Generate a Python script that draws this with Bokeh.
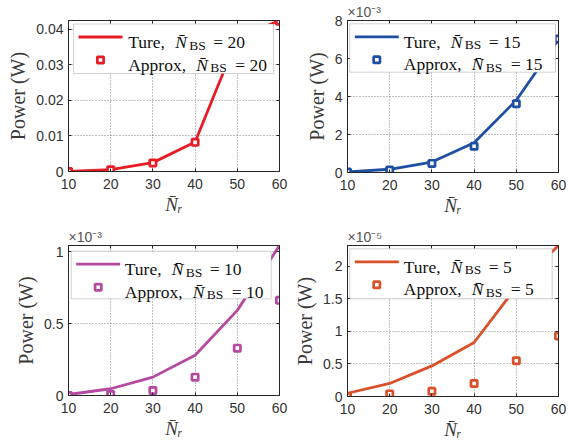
import numpy as np
from bokeh.plotting import figure
from bokeh.layouts import row, column
from bokeh.models import (Range1d, LinearAxis, FixedTicker, CustomJSTickFormatter,
                          BoxAnnotation, Label)
from bokeh.embed import file_html
from bokeh.resources import INLINE

# ---- data -------------------------------------------------------------
nr = [10, 20, 30, 40, 50, 60]

true_bs20 = [0.00002, 0.0005, 0.0025, 0.0083, 0.0375, 0.0425]
approx_bs20 = [0.00002, 0.0005, 0.0024, 0.0082, 0.0372, 0.0423]

true_bs15 = [0.03e-3, 0.17e-3, 0.55e-3, 1.57e-3, 3.80e-3, 7.00e-3]
approx_bs15 = [0.02e-3, 0.13e-3, 0.48e-3, 1.38e-3, 3.62e-3, 7.03e-3]

true_bs10 = [0.007e-3, 0.047e-3, 0.128e-3, 0.28e-3, 0.593e-3, 1.045e-3]
approx_bs10 = [0.0, 0.007e-3, 0.035e-3, 0.128e-3, 0.33e-3, 0.663e-3]

true_bs5 = [0.05e-5, 0.20e-5, 0.47e-5, 0.83e-5, 1.68e-5, 2.32e-5]
approx_bs5 = [0.0, 0.04e-5, 0.08e-5, 0.20e-5, 0.55e-5, 0.93e-5]

nbs_labels = ["20", "15", "10", "5"]
y_ticks = [[0, 0.01, 0.02, 0.03, 0.04], [0, 2, 4, 6, 8], [0, 0.5, 1], [0, 0.5, 1, 1.5, 2]]
y_scales = [1.0, 1e-3, 1e-3, 1e-5]
exp_labels = ["", "\u00d710\u207b\u00b3", "\u00d710\u207b\u00b3", "\u00d710\u207b\u2075"]
y_tops = [0.0425, 8.0, 1.045, 2.32]
colors = ["#e81c24", "#1f4fa3", "#b5499f", "#d9512b"]

SERIF = "Liberation Serif"
SANS = "Liberation Sans"
TICK_COLOR = "#333333"
LABEL_COLOR = "#3a3a3a"

FW = 211  # plot-area width in px


class Geo:
    """Maps pixel offsets inside a plot area to data coordinates."""

    def __init__(self, x0, x1, y0, y1, fw, fh):
        self.x0, self.x1, self.y0, self.y1, self.fw, self.fh = x0, x1, y0, y1, fw, fh

    def x(self, fx):
        return self.x0 + fx / self.fw * (self.x1 - self.x0)

    def y(self, fy):
        return self.y1 - fy / self.fh * (self.y1 - self.y0)


def label(p, g, fx, fy, text, size, font=SERIF, style="normal", color="#111111"):
    p.add_layout(Label(x=g.x(fx), y=g.y(fy), text=text, text_font=font,
                       text_font_size=f"{size}px", text_font_style=style,
                       text_color=color, text_align="left",
                       text_baseline="alphabetic"))


def edge_axis(ticks):
    # tick marks only, no labels
    return LinearAxis(ticker=FixedTicker(ticks=ticks), major_tick_in=3, major_tick_out=0,
                      minor_tick_line_color=None, major_label_text_font_size="1px",
                      major_label_text_color=None, axis_line_color="#262626",
                      major_tick_line_color="#262626", major_label_standoff=0)


def panel(idx, border_left, border_right, border_top, frame_h, border_bottom,
          legend_box, text_x):
    color = colors[idx]
    scale = y_scales[idx]
    ytop = y_tops[idx]
    true_vals = [true_bs20, true_bs15, true_bs10, true_bs5][idx]
    approx_vals = [approx_bs20, approx_bs15, approx_bs10, approx_bs5][idx]

    p = figure(frame_width=FW, frame_height=frame_h,
               min_border_left=border_left, min_border_right=border_right,
               min_border_top=border_top, min_border_bottom=border_bottom,
               x_range=Range1d(10, 60), y_range=Range1d(0, ytop),
               output_backend="svg", toolbar_location=None)
    p.background_fill_color = "white"
    p.border_fill_color = "white"
    p.outline_line_color = "#262626"
    p.outline_line_width = 1

    # axis multiplier shown above the plot area
    if exp_labels[idx]:
        p.title.text = exp_labels[idx]
        p.title.align = "left"
        p.title.text_font = SANS
        p.title.text_font_style = "normal"
        p.title.text_font_size = "14px"
        p.title.text_color = "#555555"
        p.title.standoff = 1
        p.title.offset = 0

    fmt = CustomJSTickFormatter(code="return String(Math.round(tick*1000)/1000);")

    xa = p.xaxis[0]
    xa.ticker = FixedTicker(ticks=nr)
    xa.formatter = fmt
    xa.axis_label = "N\u0304\u1d63"
    xa.axis_label_text_font = SERIF
    xa.axis_label_text_font_style = "italic"
    xa.axis_label_text_font_size = "19px"
    xa.axis_label_text_color = LABEL_COLOR
    xa.axis_label_standoff = 2

    ya = p.yaxis[0]
    ya.ticker = FixedTicker(ticks=y_ticks[idx])
    ya.formatter = fmt
    ya.axis_label = "Power (W)"
    ya.axis_label_text_font = SERIF
    ya.axis_label_text_font_style = "normal"
    ya.axis_label_text_font_size = "20px"
    ya.axis_label_text_color = LABEL_COLOR
    ya.axis_label_standoff = 4
    for ax in (xa, ya):
        ax.major_tick_in = 3
        ax.major_tick_out = 0
        ax.minor_tick_line_color = None
        ax.major_label_text_font = SANS
        ax.major_label_text_font_size = "14px"
        ax.major_label_text_color = TICK_COLOR
        ax.axis_line_color = "#262626"
        ax.major_tick_line_color = "#262626"
    xa.major_label_standoff = 7
    ya.major_label_standoff = 5

    p.add_layout(edge_axis(nr), "above")
    p.add_layout(edge_axis(y_ticks[idx]), "right")

    for gr in (p.xgrid[0], p.ygrid[0]):
        gr.grid_line_color = "#262626"
        gr.grid_line_alpha = 0.55
        gr.grid_line_dash = "1 2"
        gr.grid_line_width = 1
    p.xgrid[0].ticker = FixedTicker(ticks=nr)
    p.ygrid[0].ticker = FixedTicker(ticks=y_ticks[idx])

    y_true = np.array(true_vals) / scale
    y_approx = np.array(approx_vals) / scale
    p.line(nr, y_true, line_color=color, line_width=2.8)
    p.scatter(nr, y_approx, marker="square", size=6.3, line_width=2.7,
              line_color=color, fill_color="white")

    g = Geo(10, 60, 0, ytop, FW, frame_h)

    # legend box with a line sample and a marker sample
    bl, bt, br, bb = legend_box
    p.add_layout(BoxAnnotation(left=g.x(bl), right=g.x(br), top=g.y(bt), bottom=g.y(bb),
                               fill_color="white", fill_alpha=1.0,
                               line_color="#6e6e6e", line_width=1, level="annotation"))
    n = nbs_labels[idx]
    b1 = bt + 18
    b2 = bt + 40.5
    label(p, g, text_x, b1, "Ture,", 17.5)
    label(p, g, text_x + 47, b1, "N\u0304", 17.5, style="italic")
    label(p, g, text_x + 61, b1 + 3, "BS", 13.5)
    label(p, g, text_x + 85, b1, "= " + n, 17.5)
    label(p, g, text_x, b2, "Approx,", 17.5)
    label(p, g, text_x + 68, b2, "N\u0304", 17.5, style="italic")
    label(p, g, text_x + 82, b2 + 3, "BS", 13.5)
    label(p, g, text_x + 107, b2, "= " + n, 17.5)

    p.line([g.x(bl + 5), g.x(bl + 49)], [g.y(bt + 13)] * 2, line_color=color,
           line_width=2.8, level="overlay")
    p.scatter([g.x(bl + 27)], [g.y(bt + 36)], marker="square", size=6.3,
              line_width=2.7, line_color=color, fill_color="white", level="overlay")
    return p


p1 = panel(0, 68, 11, 20, 151, 49, (5, 3.5, 205, 53), 59.7)
p2 = panel(1, 57, 21, 20, 152, 48, (2.3, 3.3, 208, 51.7), 56.3)
p3 = panel(2, 68, 11, 25, 150, 45, (2.7, 5.7, 202.7, 53.3), 56.3)
p4 = panel(3, 57, 21, 25, 151, 44, (2.3, 3.3, 204.7, 53.3), 56.3)

layout = column(row(p1, p2, spacing=0), row(p3, p4, spacing=0), spacing=0)

with open("out.html", "w") as f:
    f.write(file_html(layout, INLINE))
